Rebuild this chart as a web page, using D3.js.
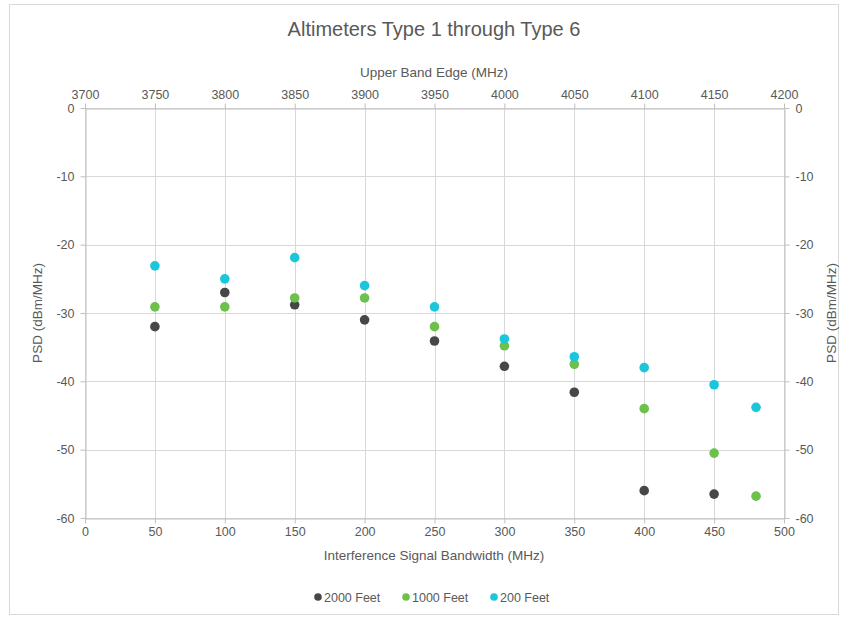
<!DOCTYPE html>
<html>
<head>
<meta charset="utf-8">
<script src="https://cdn.jsdelivr.net/npm/d3@7/dist/d3.min.js"></script>
<style>
  html, body { margin: 0; padding: 0; background: #ffffff; }
  svg text { font-family: "Liberation Sans", Arial, sans-serif; fill: #595959; }
</style>
</head>
<body>
<svg id="chart" width="848" height="619"></svg>
<script>
// Bandwidth categories (MHz) and PSD readings (dBm/MHz) per altitude
const bandwidth = [50, 100, 150, 200, 250, 300, 350, 400, 450, 480];
const feet2000 = [-32, -27, -28.8, -31, -34.1, -37.8, -41.6, -56, -56.5, null];
const feet1000 = [-29.1, -29.1, -27.8, -27.8, -32, -34.8, -37.5, -44, -50.5, -56.8];
const feet200 = [-23.1, -25, -21.9, -26, -29.1, -33.8, -36.4, -38, -40.5, -43.8];
const seriesNames = ["2000 Feet", "1000 Feet", "200 Feet"];
const seriesColors = ["#474747", "#6dc04c", "#1cc6da"];
const bottomTicks = [0, 50, 100, 150, 200, 250, 300, 350, 400, 450, 500];
const topTicks = [3700, 3750, 3800, 3850, 3900, 3950, 4000, 4050, 4100, 4150, 4200];
const yTicks = [0, -10, -20, -30, -40, -50, -60];

const svg = d3.select("#chart");
const plot = { left: 85, right: 784, top: 108, bottom: 518 };

// card frame
svg.append("rect").attr("x", 9.5).attr("y", 4.5).attr("width", 829).attr("height", 610)
  .attr("fill", "#fff").attr("stroke", "#d9d9d9").attr("stroke-width", 1);

const x = d3.scaleLinear().domain([0, 500]).range([plot.left, plot.right]);
const xTop = d3.scaleLinear().domain([3700, 4200]).range([plot.left, plot.right]);
const y = d3.scaleLinear().domain([-60, 0]).range([plot.bottom, plot.top]);
const plain = d => String(d);

// grid
const grid = svg.append("g").attr("stroke", "#d9d9d9").attr("stroke-width", 1);
grid.selectAll("line.v").data(bottomTicks).join("line")
  .attr("x1", d => Math.round(x(d)) + 0.5).attr("x2", d => Math.round(x(d)) + 0.5)
  .attr("y1", plot.top).attr("y2", plot.bottom);
grid.selectAll("line.h").data(yTicks).join("line")
  .attr("x1", plot.left).attr("x2", plot.right)
  .attr("y1", d => Math.round(y(d)) + 0.5).attr("y2", d => Math.round(y(d)) + 0.5);

function styleAxis(g) {
  g.select(".domain").attr("stroke", "#bfbfbf");
  g.selectAll(".tick line").attr("stroke", "#bfbfbf");
  g.selectAll(".tick text").attr("fill", "#595959").attr("font-size", 12.5)
    .attr("font-family", "Liberation Sans, Arial, sans-serif");
}

svg.append("g").attr("transform", `translate(0,${plot.bottom + 0.5})`)
  .call(d3.axisBottom(x).tickValues(bottomTicks).tickFormat(plain).tickSize(5).tickPadding(4).tickSizeOuter(0))
  .call(styleAxis);
svg.append("g").attr("transform", `translate(0,${plot.top + 0.5})`)
  .call(d3.axisTop(xTop).tickValues(topTicks).tickFormat(plain).tickSize(5).tickPadding(5).tickSizeOuter(0))
  .call(styleAxis);
svg.append("g").attr("transform", `translate(${plot.left + 0.5},0)`)
  .call(d3.axisLeft(y).tickValues(yTicks).tickFormat(plain).tickSize(5).tickPadding(6).tickSizeOuter(0))
  .call(styleAxis);
svg.append("g").attr("transform", `translate(${plot.right + 0.5},0)`)
  .call(d3.axisRight(y).tickValues(yTicks).tickFormat(plain).tickSize(5).tickPadding(6).tickSizeOuter(0))
  .call(styleAxis);

// titles
svg.append("text").attr("x", 434).attr("y", 36).attr("text-anchor", "middle")
  .attr("font-size", 20).text("Altimeters Type 1 through Type 6");
svg.append("text").attr("x", 434).attr("y", 77).attr("text-anchor", "middle")
  .attr("font-size", 13.5).text("Upper Band Edge (MHz)");
svg.append("text").attr("x", 434).attr("y", 560).attr("text-anchor", "middle")
  .attr("font-size", 13.5).text("Interference Signal Bandwidth (MHz)");
svg.append("text").attr("transform", `translate(42,${(plot.top + plot.bottom) / 2}) rotate(-90)`)
  .attr("text-anchor", "middle").attr("font-size", 13.5).text("PSD (dBm/MHz)");
svg.append("text").attr("transform", `translate(836,${(plot.top + plot.bottom) / 2}) rotate(-90)`)
  .attr("text-anchor", "middle").attr("font-size", 13.5).text("PSD (dBm/MHz)");

// points
const allSeries = [feet2000, feet1000, feet200];
allSeries.forEach((vals, i) => {
  const pts = bandwidth.map((b, j) => ({ b, v: vals[j] })).filter(d => d.v !== null);
  svg.append("g").selectAll("circle").data(pts).join("circle")
    .attr("cx", d => x(d.b)).attr("cy", d => y(d.v)).attr("r", 4.8)
    .attr("fill", seriesColors[i]);
});

// legend
const legendX = [318, 406, 494];
const legend = svg.append("g");
seriesNames.forEach((name, i) => {
  legend.append("circle").attr("cx", legendX[i]).attr("cy", 597).attr("r", 3.8)
    .attr("fill", seriesColors[i]);
  legend.append("text").attr("x", legendX[i] + 6).attr("y", 601.5)
    .attr("font-size", 12.5).text(name);
});
</script>
</body>
</html>
